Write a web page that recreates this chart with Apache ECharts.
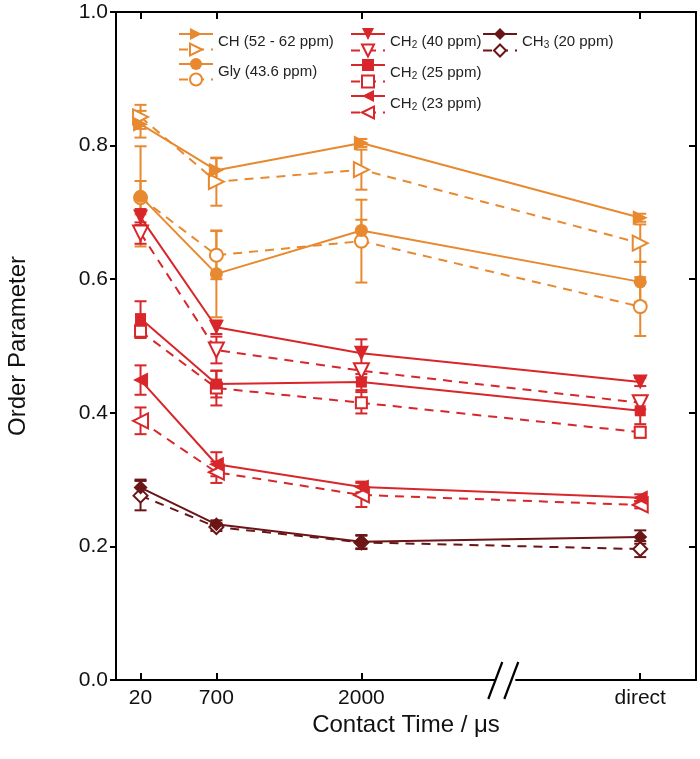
<!DOCTYPE html>
<html>
<head>
<meta charset="utf-8">
<script src="https://cdn.jsdelivr.net/npm/echarts@6.0.0/dist/echarts.min.js"></script>
<style>
  html, body { margin: 0; padding: 0; background: #fff; }
  #chart { width: 700px; height: 759px; }
</style>
</head>
<body>
<div id="chart"></div>
<script>
// x positions on the contact-time axis ("direct" sits past the axis break)
const xLabels = ['20', '700', '2000', 'direct'];
const xPos = [20, 700, 2000, 4500];
const breakAt = 3290;

// order parameters, filled = solid line, open = dashed line
const chFilled = [0.832, 0.763, 0.804, 0.692];
const chOpen = [0.843, 0.746, 0.764, 0.654];
const glyFilled = [0.724, 0.608, 0.673, 0.596];
const glyOpen = [0.722, 0.636, 0.657, 0.559];
const ch2_40Filled = [0.693, 0.528, 0.489, 0.446];
const ch2_40Open = [0.669, 0.494, 0.463, 0.415];
const ch2_25Filled = [0.541, 0.443, 0.446, 0.403];
const ch2_25Open = [0.522, 0.437, 0.415, 0.371];
const ch2_23Filled = [0.449, 0.323, 0.289, 0.273];
const ch2_23Open = [0.388, 0.311, 0.277, 0.262];
const ch3Filled = [0.288, 0.233, 0.207, 0.214];
const ch3Open = [0.276, 0.229, 0.206, 0.196];

// error bar half widths
const chFilledErr = [0.02, 0.018, 0.006, 0.006];
const chOpenErr = [0.018, 0.036, 0.03, 0.028];
const glyFilledErr = [0.075, 0.065, 0.016, 0.03];
const glyOpenErr = [0.025, 0.036, 0.062, 0.044];
const ch2_40FilledErr = [0.012, 0.01, 0.021, 0.006];
const ch2_40OpenErr = [0.016, 0.02, 0.01, 0.01];
const ch2_25FilledErr = [0.026, 0.02, 0.012, 0.02];
const ch2_25OpenErr = [0.01, 0.026, 0.016, 0.008];
const ch2_23FilledErr = [0.022, 0.018, 0.008, 0.005];
const ch2_23OpenErr = [0.02, 0.016, 0.018, 0.005];
const ch3FilledErr = [0.012, 0.006, 0.01, 0.01];
const ch3OpenErr = [0.022, 0.006, 0.01, 0.012];

const orange = '#E8892F';
const red = '#D8262A';
const dark = '#6B1517';
const font = '"Liberation Sans", Arial, sans-serif';

const groups = [
  { name: 'CH (52 - 62 ppm)', color: orange, symbol: 'triangle', rotate: -90, size: 15, filled: chFilled, open: chOpen, fErr: chFilledErr, oErr: chOpenErr },
  { name: 'Gly (43.6 ppm)', color: orange, symbol: 'circle', rotate: 0, size: 13, filled: glyFilled, open: glyOpen, fErr: glyFilledErr, oErr: glyOpenErr },
  { name: 'CH2 (40 ppm)', color: red, symbol: 'triangle', rotate: 180, size: 15, filled: ch2_40Filled, open: ch2_40Open, fErr: ch2_40FilledErr, oErr: ch2_40OpenErr },
  { name: 'CH2 (25 ppm)', color: red, symbol: 'rect', rotate: 0, size: 11, filled: ch2_25Filled, open: ch2_25Open, fErr: ch2_25FilledErr, oErr: ch2_25OpenErr },
  { name: 'CH2 (23 ppm)', color: red, symbol: 'triangle', rotate: 90, size: 15, filled: ch2_23Filled, open: ch2_23Open, fErr: ch2_23FilledErr, oErr: ch2_23OpenErr },
  { name: 'CH3 (20 ppm)', color: dark, symbol: 'diamond', rotate: 0, size: 14, filled: ch3Filled, open: ch3Open, fErr: ch3FilledErr, oErr: ch3OpenErr }
];

function errorSeries(values, errs, color) {
  return {
    type: 'custom',
    silent: true,
    z: 1,
    data: values.map((v, i) => [xPos[i], v, errs[i]]),
    encode: { x: 0, y: 1 },
    renderItem: (params, api) => {
      const x = api.value(0), y = api.value(1), e = api.value(2);
      const hi = api.coord([x, y + e]);
      const lo = api.coord([x, y - e]);
      const w = 6;
      const st = { stroke: color, lineWidth: 2 };
      return {
        type: 'group',
        children: [
          { type: 'line', shape: { x1: hi[0], y1: hi[1], x2: lo[0], y2: lo[1] }, style: st },
          { type: 'line', shape: { x1: hi[0] - w, y1: hi[1], x2: hi[0] + w, y2: hi[1] }, style: st },
          { type: 'line', shape: { x1: lo[0] - w, y1: lo[1], x2: lo[0] + w, y2: lo[1] }, style: st }
        ]
      };
    }
  };
}

function lineSeries(g, values, open) {
  return {
    type: 'line',
    name: open ? g.name + ' open' : g.name,
    data: values.map((v, i) => [xPos[i], v]),
    symbol: g.symbol,
    symbolSize: g.size,
    symbolRotate: g.rotate,
    showAllSymbol: true,
    lineStyle: { color: g.color, width: 2, type: open ? [9, 7] : 'solid' },
    itemStyle: open
      ? { color: '#fff', borderColor: g.color, borderWidth: 2 }
      : { color: g.color, borderColor: g.color, borderWidth: 0 },
    emphasis: { disabled: true },
    z: open ? 3 : 4
  };
}

const series = [];
groups.forEach(g => {
  series.push(errorSeries(g.open, g.oErr, g.color));
  series.push(errorSeries(g.filled, g.fErr, g.color));
});
groups.forEach(g => {
  series.push(lineSeries(g, g.open, true));
  series.push(lineSeries(g, g.filled, false));
});

// the label sits between the solid and the dashed row of each pair
function legendLabel(name) {
  if (name.endsWith(' open')) return '{t| }';
  const m = name.match(/^CH(\d) (.*)$/);
  if (m) return '{t|CH}{s|' + m[1] + '}{t| ' + m[2] + '}';
  return '{t|' + name + '}';
}

function makeLegend(names, left) {
  const data = [];
  names.forEach(n => { data.push(n); data.push(n + ' open'); });
  return {
    orient: 'vertical',
    left: left,
    top: 28,
    padding: 0,
    itemWidth: 34,
    itemHeight: 15,
    itemGap: -7,
    selectedMode: false,
    data: data,
    formatter: legendLabel,
    textStyle: {
      padding: [16, 0, 0, 0],
      color: '#222',
      rich: {
        t: { fontSize: 15, lineHeight: 17, fontFamily: font, color: '#222' },
        s: { fontSize: 10, lineHeight: 17, fontFamily: font, color: '#222', verticalAlign: 'bottom' }
      }
    }
  };
}

const chart = echarts.init(document.getElementById('chart'));
const axisLine = { onZero: false, lineStyle: { color: '#000', width: 2 } };

chart.setOption({
  animation: false,
  backgroundColor: '#fff',
  grid: { left: 116, right: 4, top: 12, bottom: 79, containLabel: false, outerBoundsMode: 'none' },
  legend: [
    makeLegend(['CH (52 - 62 ppm)', 'Gly (43.6 ppm)'], 178),
    makeLegend(['CH2 (40 ppm)', 'CH2 (25 ppm)', 'CH2 (23 ppm)'], 350),
    makeLegend(['CH3 (20 ppm)'], 482)
  ],
  xAxis: [
    {
      type: 'value', min: -200, max: 5000, position: 'bottom',
      axisLine: Object.assign({ show: true }, axisLine),
      axisTick: { inside: true, length: 7, customValues: xPos, lineStyle: { color: '#000', width: 2 } },
      axisLabel: {
        customValues: xPos, margin: 8, fontSize: 21, fontFamily: font, color: '#111',
        formatter: v => xLabels[xPos.indexOf(v)]
      },
      splitLine: { show: false },
      name: 'Contact Time / μs', nameLocation: 'middle', nameGap: 33, nameMoveOverlap: false,
      nameTextStyle: { fontSize: 24, fontFamily: font, color: '#111' }
    },
    {
      type: 'value', min: -200, max: 5000, position: 'top',
      axisLine: Object.assign({ show: true }, axisLine),
      axisTick: { inside: true, length: 7, customValues: xPos, lineStyle: { color: '#000', width: 2 } },
      axisLabel: { show: false },
      splitLine: { show: false }
    }
  ],
  yAxis: [
    {
      type: 'value', min: 0, max: 1, interval: 0.2, position: 'left',
      axisLine: Object.assign({ show: true }, axisLine),
      axisTick: { show: true, inside: false, length: 6, lineStyle: { color: '#000', width: 2 } },
      axisLabel: { margin: 8, fontSize: 21, fontFamily: font, color: '#111', formatter: v => v.toFixed(1) },
      splitLine: { show: false },
      name: 'Order Parameter', nameLocation: 'middle', nameGap: 86,
      nameTextStyle: { fontSize: 24, fontFamily: font, color: '#111' }
    },
    {
      type: 'value', min: 0, max: 1, interval: 0.2, position: 'right',
      axisLine: Object.assign({ show: true }, axisLine),
      axisTick: { show: true, inside: true, length: 7, lineStyle: { color: '#000', width: 2 } },
      axisLabel: { show: false },
      splitLine: { show: false }
    }
  ],
  series: series
});

// axis break marks "//" on the bottom axis
const bx = chart.convertToPixel({ xAxisIndex: 0 }, breakAt);
const by = chart.convertToPixel({ yAxisIndex: 0 }, 0);
const slash = { stroke: '#000', lineWidth: 2.2 };
chart.setOption({
  graphic: [
    { type: 'rect', shape: { x: bx - 10, y: by - 3, width: 20, height: 6 }, style: { fill: '#fff' }, z: 100 },
    { type: 'line', shape: { x1: bx - 17, y1: by + 19, x2: bx - 3, y2: by - 18 }, style: slash, z: 101 },
    { type: 'line', shape: { x1: bx - 1, y1: by + 19, x2: bx + 13, y2: by - 18 }, style: slash, z: 101 }
  ]
});
</script>
</body>
</html>
